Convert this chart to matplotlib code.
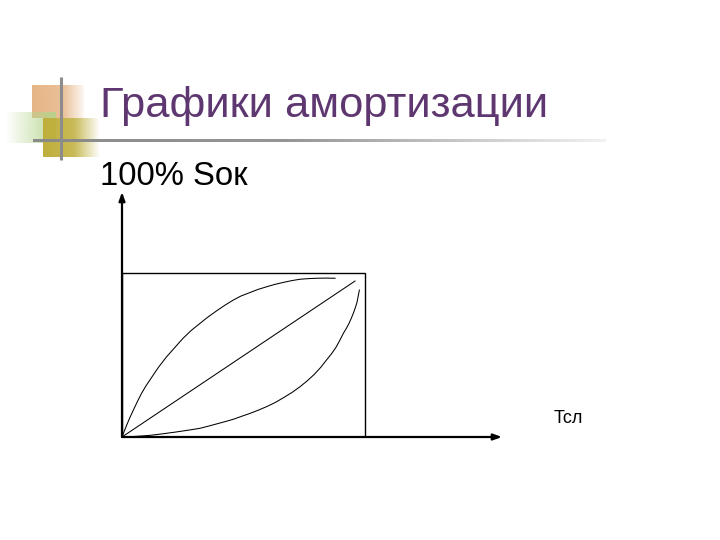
import numpy as np
import matplotlib
matplotlib.use("Agg")
import matplotlib.pyplot as plt
from matplotlib.patches import Rectangle

# ---- data (time as share of service life, value as share of 100% Sок) ----
upper_x = [0.0, 0.01, 0.02, 0.033, 0.047, 0.063, 0.08, 0.097, 0.115, 0.15, 0.184, 0.22, 0.25, 0.285,
           0.321, 0.355, 0.39, 0.425, 0.458, 0.49, 0.525, 0.56, 0.595, 0.63, 0.665, 0.70, 0.733, 0.77,
           0.80, 0.84, 0.877]
upper_y = [0.0, 0.038, 0.075, 0.12, 0.165, 0.215, 0.265, 0.308, 0.348, 0.425, 0.49, 0.55, 0.60, 0.65,
           0.693, 0.733, 0.77, 0.805, 0.835, 0.86, 0.88, 0.90, 0.916, 0.931, 0.943, 0.954, 0.962, 0.966,
           0.968, 0.969, 0.968]

linear_x = [0.0, 0.959]
linear_y = [0.0, 0.951]

lower_x = [0.0, 0.06, 0.115, 0.17, 0.22, 0.27, 0.321, 0.355, 0.39, 0.425, 0.458, 0.49, 0.525, 0.56,
           0.595, 0.63, 0.665, 0.70, 0.733, 0.762, 0.79, 0.817, 0.842, 0.862, 0.88, 0.896, 0.911,
           0.924, 0.935, 0.944, 0.952, 0.96, 0.967, 0.972, 0.977]
lower_y = [0.0, 0.004, 0.01, 0.02, 0.03, 0.041, 0.053, 0.066, 0.08, 0.094, 0.108, 0.125, 0.143, 0.163,
           0.185, 0.21, 0.24, 0.272, 0.307, 0.342, 0.38, 0.423, 0.47, 0.507, 0.545, 0.588, 0.632,
           0.664, 0.695, 0.725, 0.754, 0.787, 0.82, 0.858, 0.896]

box_w = 1.0   # Тсл
box_h = 1.0   # 100%

title = "Графики амортизации"
y_label = "100% Sок"
x_label = "Тсл"

plt.rcParams['font.family'] = ['Liberation Sans', 'DejaVu Sans']

fig = plt.figure(figsize=(7.2, 5.4), dpi=100)
fig.patch.set_facecolor('white')

# ---- decorative background layer (pixel coordinates) ----
bg = fig.add_axes([0, 0, 1, 1])
bg.set_xlim(0, 720)
bg.set_ylim(540, 0)
bg.axis('off')

def grad_box(ax, x0, x1, y0, y1, color, fade='right', a0=1.0, a1=0.0, zorder=1, stops=None):
    n = 128
    rgb = matplotlib.colors.to_rgb(color)
    img = np.zeros((1, n, 4))
    img[..., :3] = rgb
    if stops is None:
        alpha = np.linspace(a0, a1, n)
    else:
        alpha = np.interp(np.linspace(0, 1, n), stops[0], stops[1])
    if fade == 'left':
        alpha = alpha[::-1]
    img[..., 3] = alpha
    ax.imshow(img, extent=(x0, x1, y1, y0), aspect='auto', interpolation='bilinear', zorder=zorder)

# tan square, fading right
grad_box(bg, 32, 84, 85, 118, '#E6B585', 'right', stops=([0, 0.6, 1], [1.0, 0.85, 0.1]))
# green gradient, fading left
grad_box(bg, 6, 56, 112, 143, '#B4D48C', 'left', stops=([0, 0.5, 1], [0.9, 0.45, 0.0]))
# olive square fading right
grad_box(bg, 43, 100, 118, 157, '#BFAE3A', 'right', stops=([0, 0.55, 1], [1.0, 0.85, 0.0]))

# gray lines
bg.plot([61, 61], [77, 160], color='#8C8C8C', lw=2.2, zorder=3, solid_capstyle='butt')
grad_box(bg, 33, 606, 139.8, 142.4, '#8A8A8A', 'right', zorder=3,
         stops=([0, 0.45, 1], [1.0, 0.9, 0.12]))

bg.text(100, 117, title, fontsize=31.3, color='#5E3770', va='baseline', ha='left', zorder=4)
bg.text(100, 185, y_label, fontsize=23.7, color='black', va='baseline', ha='left')
bg.text(554, 423, x_label, fontsize=13, color='black', va='baseline', ha='left')

# ---- chart axes ----
ax = fig.add_axes([122 / 720, (540 - 437) / 540, (502 - 122) / 720, (437 - 192) / 540])
ax.set_xlim(0, 1.564)
ax.set_ylim(0, 1.494)
ax.axis('off')
ax.patch.set_alpha(0)

ax.add_patch(Rectangle((0, 0), box_w, box_h, fill=False, edgecolor='black', lw=1.0))
ax.plot(upper_x, upper_y, color='black', lw=0.75)
ax.plot(linear_x, linear_y, color='black', lw=0.75)
ax.plot(lower_x, lower_y, color='black', lw=0.75)

arrow = dict(arrowstyle='-|>,head_length=0.5,head_width=0.18', color='black', lw=1.6,
             shrinkA=0, shrinkB=0)
ax.annotate('', xy=(0, 1.494), xytext=(0, 0), xycoords='data', arrowprops=arrow,
            annotation_clip=False)
ax.annotate('', xy=(1.564, 0), xytext=(0, 0), xycoords='data', arrowprops=arrow,
            annotation_clip=False)

fig.savefig('out.png', dpi=100)
